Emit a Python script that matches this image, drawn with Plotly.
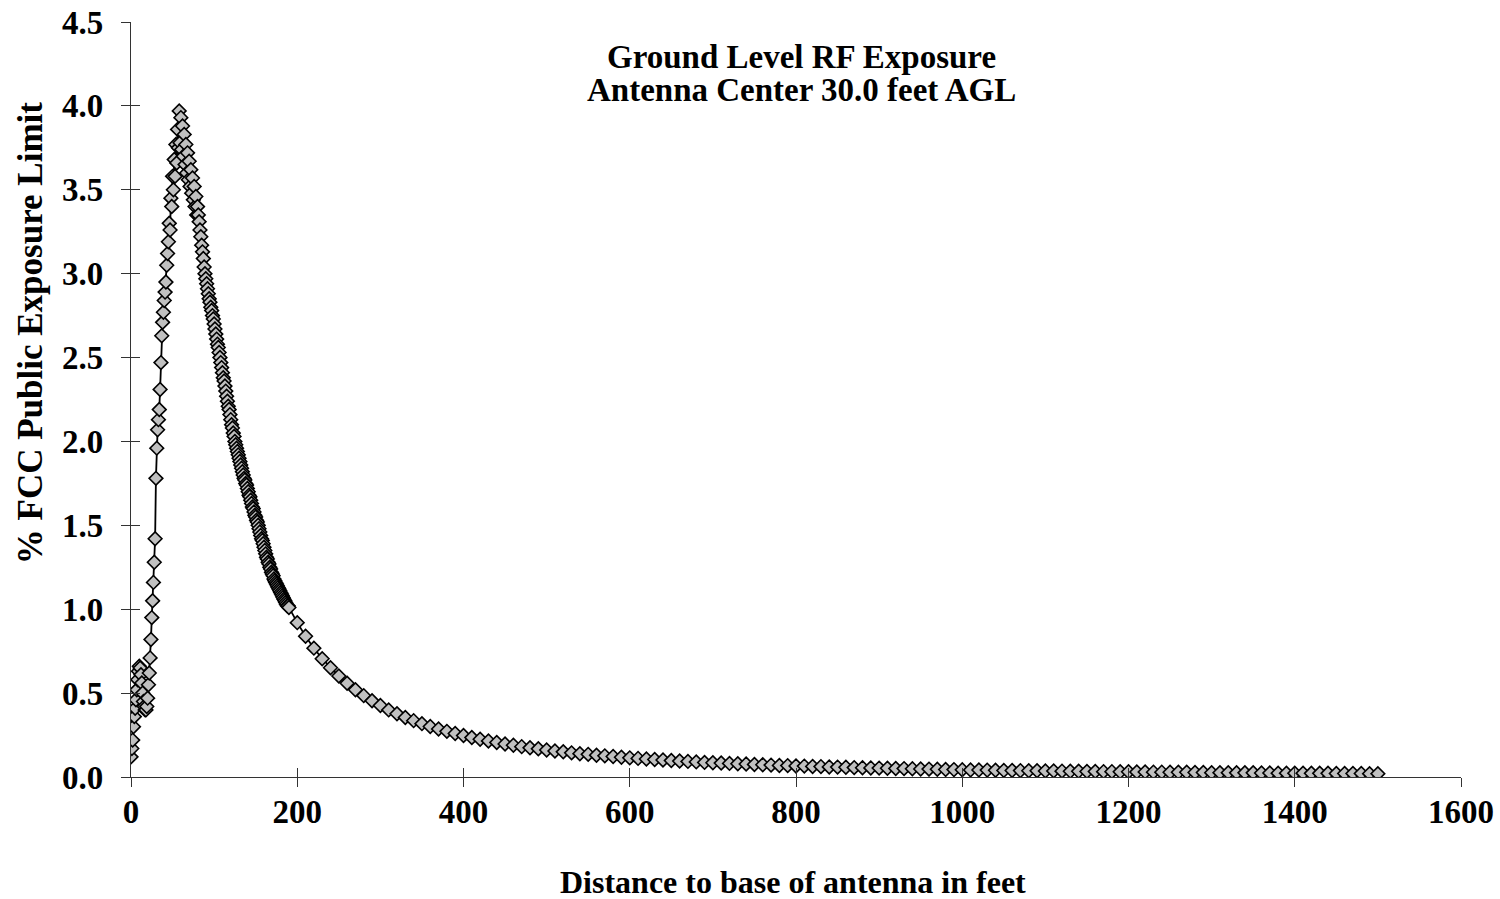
import plotly.graph_objects as go

# Distance to base of antenna (feet): 1 ft steps near the tower, 10 ft steps beyond
near_dist = list(range(0, 191))
far_dist = list(range(200, 1510, 10))

# % of FCC public exposure limit
near_pct = [
    0.12, 0.17, 0.22, 0.30, 0.36, 0.41, 0.46, 0.52, 0.58, 0.63,
    0.66, 0.65, 0.61, 0.56, 0.50, 0.45, 0.42, 0.40, 0.40, 0.42,
    0.47, 0.55, 0.62, 0.71, 0.82, 0.95, 1.05, 1.16, 1.28, 1.42,
    1.78, 1.96, 2.07, 2.13, 2.19, 2.31, 2.47, 2.63, 2.71, 2.77,
    2.84, 2.89, 2.95, 3.05, 3.12, 3.19, 3.30, 3.26, 3.45, 3.40,
    3.58, 3.50, 3.68, 3.58, 3.77, 3.66, 3.86, 3.75, 3.97, 3.78,
    3.93, 3.74, 3.88, 3.70, 3.83, 3.65, 3.77, 3.60, 3.72, 3.56,
    3.67, 3.52, 3.62, 3.48, 3.57, 3.44, 3.52, 3.40, 3.46, 3.35,
    3.40, 3.35, 3.31, 3.26, 3.22, 3.17, 3.13, 3.09, 3.04, 3.00,
    2.97, 2.94, 2.91, 2.88, 2.85, 2.83, 2.80, 2.78, 2.75, 2.73,
    2.70, 2.67, 2.64, 2.61, 2.58, 2.56, 2.53, 2.50, 2.47, 2.44,
    2.41, 2.38, 2.36, 2.33, 2.30, 2.27, 2.24, 2.21, 2.19, 2.16,
    2.13, 2.10, 2.08, 2.05, 2.03, 2.00, 1.98, 1.96, 1.94, 1.92,
    1.90, 1.88, 1.86, 1.84, 1.82, 1.80, 1.78, 1.77, 1.75, 1.74,
    1.72, 1.70, 1.68, 1.67, 1.65, 1.63, 1.61, 1.60, 1.58, 1.56,
    1.55, 1.53, 1.52, 1.50, 1.48, 1.46, 1.44, 1.42, 1.41, 1.39,
    1.37, 1.35, 1.33, 1.31, 1.30, 1.28, 1.27, 1.25, 1.24, 1.22,
    1.21, 1.20, 1.18, 1.17, 1.16, 1.15, 1.14, 1.13, 1.12, 1.11,
    1.10, 1.09, 1.08, 1.07, 1.06, 1.05, 1.04, 1.03, 1.02, 1.02,
    1.01,
]
far_pct = [
    0.920, 0.839, 0.768, 0.705, 0.651, 0.602, 0.559, 0.520, 0.485, 0.454,
    0.426, 0.400, 0.377, 0.355, 0.336, 0.318, 0.301, 0.286, 0.272, 0.259,
    0.247, 0.235, 0.225, 0.215, 0.206, 0.197, 0.189, 0.181, 0.174, 0.168,
    0.161, 0.155, 0.150, 0.144, 0.139, 0.135, 0.130, 0.126, 0.122, 0.118,
    0.114, 0.111, 0.107, 0.104, 0.101, 0.098, 0.095, 0.093, 0.090, 0.087,
    0.085, 0.083, 0.081, 0.079, 0.077, 0.075, 0.073, 0.071, 0.069, 0.068,
    0.066, 0.065, 0.063, 0.062, 0.060, 0.059, 0.058, 0.056, 0.055, 0.054,
    0.053, 0.052, 0.051, 0.050, 0.049, 0.048, 0.047, 0.046, 0.045, 0.044,
    0.043, 0.042, 0.042, 0.041, 0.040, 0.039, 0.039, 0.038, 0.037, 0.037,
    0.036, 0.036, 0.035, 0.034, 0.034, 0.033, 0.033, 0.032, 0.032, 0.031,
    0.031, 0.030, 0.030, 0.029, 0.029, 0.028, 0.028, 0.028, 0.027, 0.027,
    0.026, 0.026, 0.026, 0.025, 0.025, 0.025, 0.024, 0.024, 0.023, 0.023,
    0.023, 0.023, 0.022, 0.022, 0.022, 0.021, 0.021, 0.021, 0.021, 0.020,
    0.020,
]

distance = near_dist + far_dist
pct_limit = near_pct + far_pct

FONT = "Liberation Serif, Times New Roman, serif"
AXIS_COLOR = "#333333"
tick_font = dict(family=FONT, size=33, color="black", weight="bold")
label_font = dict(family=FONT, size=33, color="black", weight="bold")

fig = go.Figure()

fig.add_trace(
    go.Scatter(
        x=distance,
        y=pct_limit,
        mode="lines+markers",
        line=dict(color="black", width=1.8),
        marker=dict(
            symbol="diamond",
            size=10.5,
            color="#C0C0C0",
            line=dict(color="black", width=1.6),
        ),
        showlegend=False,
    )
)

# empty trace so the overlay axes (outer half of the crossing ticks) get drawn
fig.add_trace(
    go.Scatter(x=[], y=[], xaxis="x2", yaxis="y2", showlegend=False)
)

common = dict(
    showgrid=False,
    zeroline=False,
    automargin=False,
    tickwidth=1.3,
    tickcolor=AXIS_COLOR,
    ticklen=9,
)

fig.update_layout(
    width=1500,
    height=899,
    plot_bgcolor="white",
    paper_bgcolor="white",
    margin=dict(l=131, r=39, t=22, b=122),
    xaxis=dict(
        range=[0, 1600],
        dtick=200,
        showline=True,
        linecolor=AXIS_COLOR,
        linewidth=1.3,
        ticks="inside",
        tickfont=tick_font,
        ticklabelstandoff=5,
        **common,
    ),
    yaxis=dict(
        range=[0, 4.5],
        dtick=0.5,
        tickformat=".1f",
        showline=True,
        linecolor=AXIS_COLOR,
        linewidth=1.3,
        ticks="inside",
        tickfont=tick_font,
        ticklabelstandoff=20,
        **common,
    ),
    xaxis2=dict(
        overlaying="x",
        anchor="y",
        side="bottom",
        range=[0, 1600],
        dtick=200,
        showticklabels=False,
        ticks="outside",
        **common,
    ),
    yaxis2=dict(
        overlaying="y",
        anchor="x",
        side="left",
        range=[0, 4.5],
        dtick=0.5,
        showticklabels=False,
        ticks="outside",
        **common,
    ),
    annotations=[
        dict(
            text="Ground Level RF Exposure",
            xref="paper",
            yref="paper",
            x=0.5045,
            y=0.9536,
            xanchor="center",
            yanchor="middle",
            showarrow=False,
            font=label_font,
        ),
        dict(
            text="Antenna Center 30.0 feet AGL",
            xref="paper",
            yref="paper",
            x=0.5045,
            y=0.9099,
            xanchor="center",
            yanchor="middle",
            showarrow=False,
            font=label_font,
        ),
        dict(
            text="Distance to base of antenna in feet",
            xref="paper",
            yref="paper",
            x=0.498,
            y=-0.139,
            xanchor="center",
            yanchor="middle",
            showarrow=False,
            font=dict(family=FONT, size=32, color="black", weight="bold"),
        ),
        dict(
            text="% FCC Public Exposure Limit",
            xref="paper",
            yref="paper",
            x=-0.076,
            y=0.589,
            xanchor="center",
            yanchor="middle",
            textangle=-90,
            showarrow=False,
            font=dict(family=FONT, size=35, color="black", weight="bold"),
        ),
    ],
)

# drop the page's default body margin so the 1500x899 figure fills the window exactly
fig.write_html(
    "out.html",
    config={"displayModeBar": False},
    post_script="document.body.style.margin = '0';",
)
